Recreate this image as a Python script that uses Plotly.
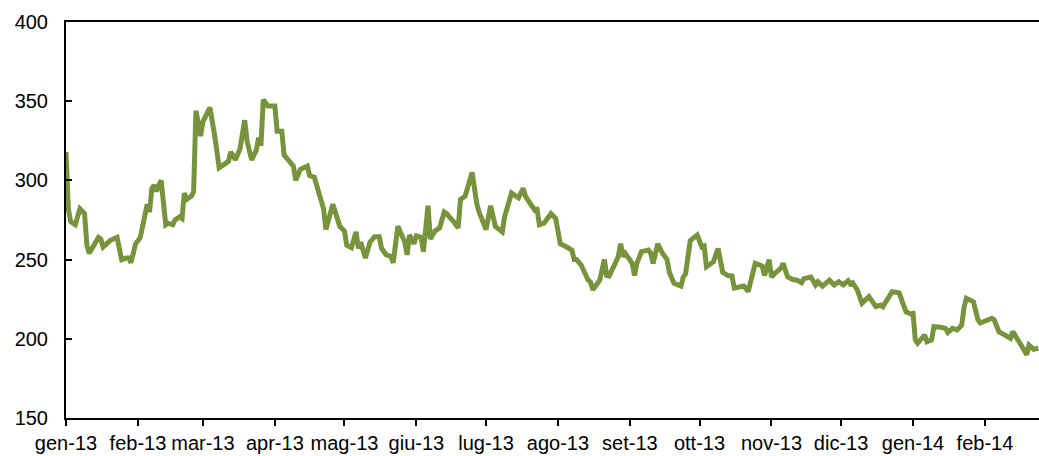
import pandas as pd
import plotly.graph_objects as go

# days since 2013-01-01
days = [0, 1, 2, 4, 6, 8, 9, 10, 14, 15, 16, 19, 22, 24, 26, 27, 28, 30, 32, 34,
        35, 36, 37, 38, 39, 40, 41, 43, 44, 46, 47, 49, 50, 51, 52, 54, 55, 56, 58, 59,
        61, 62, 64, 66, 67, 69, 70, 71, 72, 73, 75, 77, 78, 80, 82, 83, 84, 85, 87, 90,
        91, 93, 94, 97, 98, 99, 101, 104, 105, 107, 111, 112, 115, 118, 120, 121, 123, 125, 126, 127,
        129, 131, 133, 135, 136, 138, 140, 141, 143, 146, 147, 148, 150, 151, 153, 154, 156, 157, 159, 161,
        163, 164, 166, 167, 169, 170, 172, 175, 177, 178, 181, 183, 185, 187, 188, 189, 190, 192, 194, 195,
        197, 198, 200, 202, 203, 204, 206, 209, 211, 212, 213, 215, 217, 218, 219, 220, 222, 223, 225, 226,
        227, 230, 231, 232, 233, 234, 236, 238, 239, 240, 241, 244, 245, 246, 248, 251, 252, 253, 255, 257,
        259, 260, 262, 264, 265, 266, 267, 269, 272, 274, 275, 276, 279, 281, 283, 285, 287, 288, 290, 292,
        294, 296, 297, 300, 301, 303, 304, 306, 308, 309, 311, 313, 315, 317, 318, 321, 323, 324, 326, 329,
        331, 333, 335, 337, 338, 339, 341, 343, 346, 349, 351, 352, 354, 356, 359, 362, 364, 365, 366, 367,
        370, 371, 373, 374, 377, 379, 380, 382, 384, 385, 386, 387, 388, 391, 393, 394, 397, 399, 400, 402,
        405, 407, 408, 410, 412, 414, 415, 417, 419]

values = [318, 282, 274, 272, 282, 279, 259, 254, 264, 263, 258, 262, 264, 250, 251, 251, 248, 260, 264, 278,
          285, 280, 295, 297, 293, 297, 300, 272, 273, 272, 275, 277, 276, 292, 288, 290, 293, 344, 328, 337,
          342, 346, 329, 308, 309, 311, 312, 318, 315, 313, 320, 338, 325, 313, 319, 327, 322, 351, 347, 347,
          331, 331, 316, 311, 309, 300, 307, 309, 303, 302, 282, 269, 285, 271, 268, 259, 257.5, 267.5, 257, 261,
          251, 261, 264.5, 264.5, 257, 253, 252, 248, 271, 261, 253, 265.5, 260, 265, 264, 255, 284, 263, 268, 270,
          280, 279, 276, 274, 270, 288, 290, 305, 285.5, 280, 269, 284, 271, 269, 267.5, 277, 282, 292, 290, 289,
          295, 290, 285.5, 281.3, 281.7, 272, 273, 279, 276, 269, 260, 258.6, 256.5, 256, 250, 250, 246.6, 243.4, 237, 236,
          231, 237, 243, 250, 240, 239.6, 245.5, 252, 260, 252, 254, 247.6, 240, 247.6, 255, 256, 254, 247.6, 260, 254,
          250, 242, 235, 233.3, 233.3, 239, 241, 262, 265.5, 258, 258.6, 245.5, 248.7, 257, 242, 240, 239.6, 232, 232.5, 233.3,
          230, 240, 247.6, 246, 240, 250, 239, 242, 244.5, 247.6, 239, 237.6, 237, 235.4, 238, 239, 234, 236, 233.3, 237,
          234, 236, 234, 236.7, 234.6, 235.4, 230.8, 222.4, 226.6, 220.3, 221.3, 220.3, 225.6, 229.7, 229, 217, 215.7, 216, 199.3, 197.2,
          202.4, 198.2, 199.3, 207.6, 207.3, 206.6, 204, 206.6, 205.6, 207.6, 208.7, 220, 225.6, 223.4, 212, 210, 212, 213, 212, 204.5,
          202, 200.3, 204.5, 200.3, 195, 190, 196, 193.4, 194]

tick_dates = ["2013-01-01", "2013-02-01", "2013-03-01", "2013-04-01", "2013-05-01", "2013-06-01",
              "2013-07-01", "2013-08-01", "2013-09-01", "2013-10-01", "2013-11-01", "2013-12-01",
              "2014-01-01", "2014-02-01"]
tick_labels = ["gen-13", "feb-13", "mar-13", "apr-13", "mag-13", "giu-13", "lug-13", "ago-13",
               "set-13", "ott-13", "nov-13", "dic-13", "gen-14", "feb-14"]

dates = pd.to_datetime(days, unit="D", origin=pd.Timestamp("2013-01-01"))

fig = go.Figure()
fig.add_trace(go.Scatter(x=dates, y=values, mode="lines",
                         line=dict(color="#77933C", width=5), showlegend=False))

font = dict(family="Liberation Sans, Arial, sans-serif", size=20, color="#000000")
fig.update_layout(
    width=1039, height=456,
    margin=dict(l=66, r=0, t=22, b=38),
    paper_bgcolor="white", plot_bgcolor="white",
    font=font,
)
fig.update_xaxes(
    range=["2013-01-01", "2014-02-24 07:00"],
    tickvals=tick_dates, ticktext=tick_labels,
    showline=True, linecolor="black", linewidth=2, mirror=True,
    ticks="outside", ticklen=6, tickwidth=1.5, tickcolor="black",
    showgrid=False, zeroline=False, tickfont=font, automargin=False,
)
fig.update_yaxes(
    range=[150, 400], dtick=50, tick0=150,
    showline=True, linecolor="black", linewidth=2,
    ticks="inside", ticklen=6, tickwidth=1.5, tickcolor="black",
    showgrid=False, zeroline=False, tickfont=font, ticklabelstandoff=12,
    automargin=False,
)
fig.write_html("out.html", config={"displayModeBar": False},
               post_script="document.body.style.margin='0';document.body.style.overflow='hidden';")
